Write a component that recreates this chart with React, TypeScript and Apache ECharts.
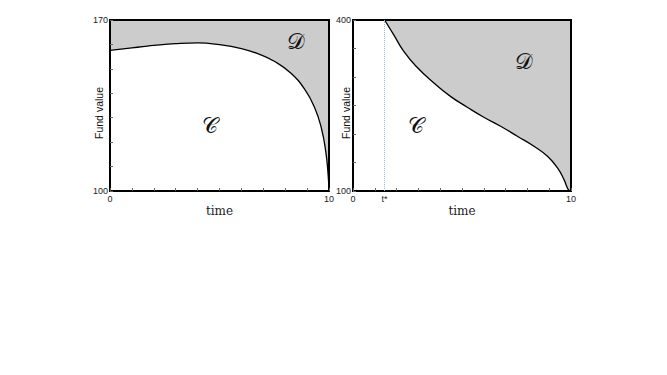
import React, { useEffect, useRef } from "react";
import * as echarts from "echarts";

// Left panel: value of the fund boundary over time
const leftTime = [0, 1, 1.5, 2, 3, 4, 5, 6, 6.75, 7.5, 8.25, 8.9, 9.35, 9.65, 9.85, 9.96, 10];
const leftValue = [157.6, 158.6, 159.1, 159.6, 160.3, 160.6, 159.9, 158.3, 156.2, 153.1, 148.3, 141.5, 134, 125.8, 116.3, 106.7, 100];

// Right panel
const rightTime = [1.45, 1.87, 2.33, 2.94, 3.71, 4.47, 5.24, 6.0, 6.77, 7.54, 8.3, 8.92, 9.38, 9.68, 9.87, 10];
const rightValue = [400, 374, 345, 317, 289.5, 266, 247, 229.3, 213.5, 196, 178.5, 161, 140.4, 120, 103, 100];
const tStar = 1.45;

const leftY = { min: 100, max: 170, interval: 10 };
const rightY = { min: 100, max: 400, interval: 50 };
const xRange = { min: 0, max: 10, interval: 1 };

const regionLabels = ["𝒞", "𝒟"];

export default function App() {
  const ref = useRef<HTMLDivElement>(null);
  useEffect(() => {
    if (!ref.current) return;
    const chart = echarts.init(ref.current, undefined, { renderer: "svg" });
    const labelFont = { fontFamily: "Liberation Sans, Arial, sans-serif", fontSize: 9, color: "#222" };
    const mkX = (gridIndex: number) => ({
      type: "value" as const,
      gridIndex,
      min: xRange.min,
      max: xRange.max,
      interval: xRange.interval,
      z: 6,
      axisLine: { show: false },
      axisTick: { show: true, inside: true, length: 3, lineStyle: { color: "#666", width: 1 } },
      splitLine: { show: false },
      axisLabel: {
        ...labelFont,
        margin: 3,
        formatter: (v: number) => (v === xRange.min || v === xRange.max ? String(v) : ""),
      },
      name: "time",
      nameLocation: "middle" as const,
      nameGap: 14,
      nameTextStyle: { fontFamily: "DejaVu Serif, serif", fontSize: 12, color: "#222" },
    });
    const mkY = (gridIndex: number, r: { min: number; max: number; interval: number }) => ({
      type: "value" as const,
      gridIndex,
      min: r.min,
      max: r.max,
      interval: r.interval,
      z: 6,
      axisLine: { show: false },
      axisTick: { show: true, inside: true, length: 3, lineStyle: { color: "#666", width: 1 } },
      splitLine: { show: false },
      axisLabel: {
        ...labelFont,
        margin: 2,
        formatter: (v: number) => (v === r.min || v === r.max ? String(v) : ""),
      },
    });
    const scriptFont = "DejaVu Serif, DejaVu Sans, Noto Sans, serif";
    const txt = (x: number, y: number, text: string, size: number, font: string, rot = 0) => ({
      type: "text" as const,
      x,
      y,
      z: 100,
      rotation: rot,
      style: { text, fontSize: size, fontFamily: font, fill: "#111", align: "center", verticalAlign: "middle" },
    });
    chart.setOption({
      animation: false,
      backgroundColor: "#fff",
      grid: [
        { left: 110, top: 20, width: 219, height: 171, show: true, z: 5, borderColor: "#000", borderWidth: 2, backgroundColor: "transparent" },
        { left: 353, top: 20, width: 218, height: 171, show: true, z: 5, borderColor: "#000", borderWidth: 2, backgroundColor: "transparent" },
      ],
      xAxis: [mkX(0), mkX(1)],
      yAxis: [mkY(0, leftY), mkY(1, rightY)],
      series: [
        {
          type: "line",
          xAxisIndex: 0,
          yAxisIndex: 0,
          data: leftTime.map((t, i) => [t, leftValue[i]]),
          showSymbol: false,
          smooth: true,
          lineStyle: { color: "#000", width: 1.3 },
          areaStyle: { origin: "end", color: "#cccccc", opacity: 1 },
          z: 1,
        },
        {
          type: "line",
          xAxisIndex: 1,
          yAxisIndex: 1,
          data: rightTime.map((t, i) => [t, rightValue[i]]),
          showSymbol: false,
          smooth: true,
          lineStyle: { color: "#000", width: 1.3 },
          areaStyle: { origin: "end", color: "#cccccc", opacity: 1 },
          z: 1,
          markLine: {
            silent: true,
            symbol: ["none", "none"],
            lineStyle: { type: "dotted", color: "#8fb8de", width: 1 },
            label: {
              show: true,
              position: "start",
              formatter: "t*",
              fontFamily: "Liberation Sans, Arial, sans-serif",
              fontSize: 9,
              color: "#222",
              distance: 3,
            },
            data: [{ xAxis: tStar }],
          },
        },
      ],
      graphic: [
        txt(99, 113, "Fund value", 10.5, "Liberation Sans, Arial, sans-serif", Math.PI / 2),
        txt(346, 113, "Fund value", 10.5, "Liberation Sans, Arial, sans-serif", Math.PI / 2),
        txt(210, 125, regionLabels[0], 22, scriptFont),
        txt(296, 41, regionLabels[1], 22, scriptFont),
        txt(416, 125, regionLabels[0], 22, scriptFont),
        txt(524, 61, regionLabels[1], 22, scriptFont),
      ],
    });
    return () => chart.dispose();
  }, []);
  return <div ref={ref} style={{ position: "fixed", left: 0, top: 0, width: 667, height: 375 }} />;
}
